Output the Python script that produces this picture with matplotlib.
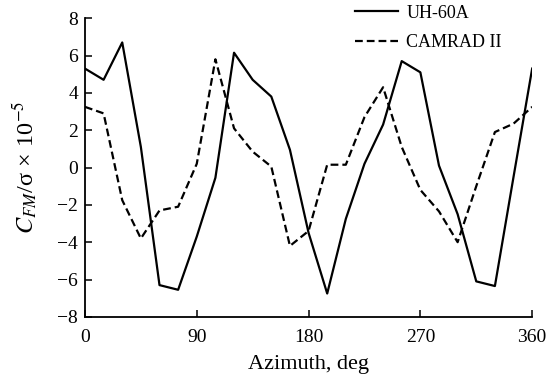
import matplotlib
matplotlib.use("Agg")
from matplotlib import pyplot as plt

plt.rcParams['font.family'] = ['Liberation Serif', 'DejaVu Serif']
plt.rcParams['mathtext.fontset'] = 'stix'

# azimuth, deg (every 15 deg)
azimuth = [0, 15, 30, 45, 60, 75, 90, 105, 120, 135, 150, 165, 180,
           195, 210, 225, 240, 255, 270, 285, 300, 315, 330, 345, 360]
uh60a = [5.3, 4.7, 6.7, 1.1, -6.3, -6.55, -3.7, -0.55, 6.15, 4.7, 3.8, 0.95, -3.5,
         -6.75, -2.75, 0.2, 2.3, 5.7, 5.1, 0.1, -2.5, -6.1, -6.35, -0.5, 5.3]
camrad = [3.25, 2.9, -1.75, -3.8, -2.3, -2.1, 0.2, 5.8, 2.1, 0.85, 0.05, -4.2, -3.4,
          0.15, 0.15, 2.7, 4.3, 1.1, -1.2, -2.35, -4.0, -1.0, 1.9, 2.35, 3.25]

fig = plt.figure(figsize=(5.59, 3.79), dpi=100)
ax = fig.add_axes([0.152, 0.164, 0.800, 0.788])

ax.plot(azimuth, uh60a, '-', color='black', lw=1.6, label='UH-60A')
ax.plot(azimuth, camrad, '--', color='black', lw=1.6, dashes=(3.5, 1.8), label='CAMRAD II')

ax.set_xlim(0, 360)
ax.set_ylim(-8, 8)
ax.set_xticks([0, 90, 180, 270, 360])
ax.set_yticks(range(-8, 9, 2))
ax.spines['top'].set_visible(False)
ax.spines['right'].set_visible(False)
for s in ['left', 'bottom']:
    ax.spines[s].set_linewidth(1.3)
ax.tick_params(direction='in', length=5, width=1.1, labelsize=14)
ax.tick_params(axis='x', pad=9)
ax.tick_params(axis='y', pad=5)

ax.set_xlabel('Azimuth, deg', fontsize=16, labelpad=6)
ax.set_ylabel(r'$C_{FM}$/σ × 10$^{-5}$', fontsize=17.5, labelpad=12)

fig.legend(loc='upper left', bbox_to_anchor=(0.635, 0.988), frameon=False,
           fontsize=13, handlelength=2.4, handletextpad=0.45, labelspacing=0.68,
           borderaxespad=0, borderpad=0)

fig.savefig('out.png', dpi=100)
